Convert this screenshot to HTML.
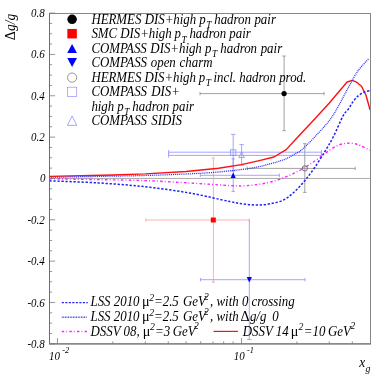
<!DOCTYPE html>
<html><head><meta charset="utf-8"><title>plot</title>
<style>html,body{margin:0;padding:0;background:#fff;}svg{display:block;will-change:transform}text{font-family:"Liberation Serif",serif;fill:#000}.i{font-style:italic}</style></head><body>
<svg width="378" height="378" viewBox="0 0 378 378">
<rect width="378" height="378" fill="#fff"/>
<line x1="49.5" y1="178.45" x2="370.5" y2="178.45" stroke="#a2a2a2" stroke-width="0.9"/>
<path d="M145.8 220.0H249.3M145.8 218.3V221.7M249.3 218.3V221.7M213.4 157.9V282.2M211.70000000000002 157.9H215.1M211.70000000000002 282.2H215.1" stroke="#ff9d9d" stroke-width="0.8" fill="none"/>
<path d="M200.5 279.7H305.0M200.5 278.0V281.4M305.0 278.0V281.4M249.3 220.0V339.6" stroke="#8f8fff" stroke-width="0.8" fill="none"/>
<path d="M247.1 339.6H251.5" stroke="#8f8fff" stroke-width="0.8" fill="none"/>
<path d="M200.0 93.6H324.1M200.0 91.89999999999999V95.3M324.1 91.89999999999999V95.3M284.1 56.0V130.7M282.40000000000003 56.0H285.8M282.40000000000003 130.7H285.8" stroke="#8a8a8a" stroke-width="0.8" fill="none"/>
<path d="M247.2 168.4H355.2M247.2 166.70000000000002V170.1M355.2 166.70000000000002V170.1M304.8 143.7V192.4M303.1 143.7H306.5M303.1 192.4H306.5" stroke="#8a8a8a" stroke-width="0.8" fill="none"/>
<path d="M168.6 152.2H321.4M168.6 150.0V154.39999999999998M321.4 150.0V154.39999999999998M233.2 134.4V171.0M231.0 134.4H235.39999999999998M231.0 171.0H235.39999999999998" stroke="#8f8fff" stroke-width="0.8" fill="none"/>
<path d="M168.6 155.4H321.4M168.6 153.20000000000002V157.6M321.4 153.20000000000002V157.6M241.6 144.6V165.2M239.4 144.6H243.79999999999998M239.4 165.2H243.79999999999998" stroke="#8f8fff" stroke-width="0.8" fill="none"/>
<path d="M200.3 175.3H279.4M200.3 173.60000000000002V177.0M279.4 173.60000000000002V177.0M233.2 158.8V191.4M231.5 158.8H234.89999999999998M231.5 191.4H234.89999999999998" stroke="#8f8fff" stroke-width="0.8" fill="none"/>
<path d="M49.5 176.4L112.9 175.0L145.3 173.9L186.1 171.5L218.5 168.3L241.5 164.6L259.3 160.6L273.9 157.0L286.2 149.6L296.9 138.0L314.7 119.0L329.3 103.0L341.6 88.5L347.1 82.0L352.3 80.3L357.1 82.4L361.7 86.6L366.0 95.3L370.1 110.0" stroke="#ff1010" stroke-width="1.4" fill="none" stroke-linejoin="round"/>
<path d="M49.5 178.8C57.6 178.9 82.1 179.3 98.0 179.6C113.9 179.9 129.7 180.0 145.0 180.6C160.3 181.2 175.8 182.2 190.0 183.0C204.2 183.8 221.2 185.1 230.0 185.6C238.8 186.1 238.6 186.0 243.0 185.8C247.4 185.6 252.1 185.2 256.5 184.6C260.9 184.0 265.3 183.4 269.7 182.3C274.1 181.2 278.5 179.7 282.9 178.0C287.3 176.3 291.7 174.5 296.1 172.3C300.5 170.1 305.0 167.4 309.4 164.6C313.8 161.8 318.9 158.0 322.6 155.3C326.4 152.6 329.0 150.4 331.9 148.6C334.8 146.8 337.4 145.5 340.0 144.6C342.6 143.7 345.1 143.4 347.4 143.2C349.7 143.0 351.8 143.2 354.0 143.6C356.2 144.0 357.6 144.5 360.4 145.6C363.1 146.7 368.8 149.6 370.5 150.4" stroke="#ff1fff" stroke-width="1.4" fill="none" stroke-linecap="butt" stroke-linejoin="round" stroke-dasharray="2.6 2.1 0.9 2.3"/>
<path d="M49.5 180.8C57.6 181.2 82.1 181.9 98.0 182.9C113.9 183.9 129.7 185.0 145.0 186.7C160.3 188.4 175.8 190.6 190.0 193.1C204.2 195.6 221.2 199.8 230.0 201.6C238.8 203.4 238.6 203.2 243.0 203.8C247.4 204.4 252.1 205.0 256.5 205.0C260.9 205.0 265.3 204.6 269.7 203.8C274.1 203.0 278.9 202.2 282.9 200.3C286.9 198.4 289.9 195.8 293.5 192.6C297.1 189.4 301.0 185.2 304.5 181.0C308.0 176.8 311.2 172.5 314.7 167.5C318.1 162.5 322.1 156.1 325.2 151.0C328.3 145.9 330.2 142.8 333.2 137.0C336.2 131.2 340.5 120.7 343.0 116.0C345.5 111.3 346.7 111.5 348.4 109.1C350.1 106.7 351.3 104.0 353.0 101.8C354.7 99.5 356.5 97.2 358.4 95.6C360.3 94.0 362.6 92.8 364.5 92.0C366.4 91.2 369.1 90.8 370.0 90.6" stroke="#1f1fff" stroke-width="1.5" fill="none" stroke-linecap="butt" stroke-linejoin="round" stroke-dasharray="2.3 1.7"/>
<path d="M49.5 177.3C57.6 177.2 82.1 176.7 98.0 176.4C113.9 176.1 128.0 176.0 145.0 175.5C162.0 175.0 185.8 174.1 200.0 173.3C214.2 172.5 220.6 171.8 230.0 170.8C239.4 169.8 247.7 169.0 256.5 167.2C265.3 165.4 276.4 162.3 282.9 160.0C289.4 157.7 292.5 155.2 295.6 153.5C298.7 151.8 298.4 152.6 301.4 150.0C304.4 147.4 308.6 143.5 313.7 138.0C318.8 132.5 326.3 125.1 331.9 117.0C337.5 108.9 343.1 97.0 347.4 89.3C351.7 81.6 354.2 76.2 357.8 71.1C361.4 66.0 367.0 60.7 368.8 58.6" stroke="#2a2aff" stroke-width="1.25" fill="none" stroke-linecap="butt" stroke-linejoin="round" stroke-dasharray="1 0.9"/>
<circle cx="284.1" cy="93.6" r="2.6" fill="#000"/>
<rect x="210.8" y="217.5" width="5" height="5" fill="#ff0000"/>
<path d="M233.2 172.6L235.8 177.9H230.6Z" fill="#0000ff"/>
<path d="M249.3 282.6L251.9 277.0H246.7Z" fill="#0000ff"/>
<circle cx="304.8" cy="168.4" r="2.6" fill="none" stroke="#555" stroke-width="0.8"/>
<rect x="230.5" y="149.8" width="5.4" height="5.4" fill="none" stroke="#8f8fff" stroke-width="0.8"/>
<path d="M241.6 151.6L244.4 157.6H238.8Z" fill="none" stroke="#8f8fff" stroke-width="0.8"/>
<rect x="49.5" y="13.5" width="321.0" height="330.4" fill="none" stroke="#868686" stroke-width="1"/>
<path d="M49.5 13.0V343.9M49.0 343.9H371.0" fill="none" stroke="#6e6e6e" stroke-width="1"/>
<path d="M49.5 343.81h5.6M49.5 333.47h2.6M49.5 323.14h2.6M49.5 312.80h2.6M49.5 302.47h5.6M49.5 292.13h2.6M49.5 281.80h2.6M49.5 271.46h2.6M49.5 261.13h5.6M49.5 250.79h2.6M49.5 240.46h2.6M49.5 230.12h2.6M49.5 219.79h5.6M49.5 209.45h2.6M49.5 199.12h2.6M49.5 188.78h2.6M49.5 178.45h5.6M49.5 168.11h2.6M49.5 157.78h2.6M49.5 147.44h2.6M49.5 137.11h5.6M49.5 126.77h2.6M49.5 116.44h2.6M49.5 106.10h2.6M49.5 95.77h5.6M49.5 85.43h2.6M49.5 75.10h2.6M49.5 64.76h2.6M49.5 54.43h5.6M49.5 44.09h2.6M49.5 33.76h2.6M49.5 23.43h2.6M49.5 13.09h5.6M57.46 343.9v-5.8M112.86 343.9v-2.6M145.27 343.9v-2.6M168.26 343.9v-2.6M186.10 343.9v-2.6M200.67 343.9v-2.6M212.99 343.9v-2.6M223.66 343.9v-2.6M233.08 343.9v-2.6M241.50 343.9v-5.8M296.90 343.9v-2.6M329.31 343.9v-2.6M352.30 343.9v-2.6" stroke="#7a7a7a" stroke-width="0.8" fill="none"/>
<text class="i" transform="translate(44.8,17.1) scale(1,1.09)" font-size="11" text-anchor="end">0.8</text>
<text class="i" transform="translate(44.8,58.4) scale(1,1.09)" font-size="11" text-anchor="end">0.6</text>
<text class="i" transform="translate(44.8,99.8) scale(1,1.09)" font-size="11" text-anchor="end">0.4</text>
<text class="i" transform="translate(44.8,141.1) scale(1,1.09)" font-size="11" text-anchor="end">0.2</text>
<text class="i" transform="translate(45.6,182.4) scale(1,1.09)" font-size="11" text-anchor="end">0</text>
<text class="i" transform="translate(44.8,223.8) scale(1,1.09)" font-size="11" text-anchor="end">-0.2</text>
<text class="i" transform="translate(44.8,265.1) scale(1,1.09)" font-size="11" text-anchor="end">-0.4</text>
<text class="i" transform="translate(44.8,306.5) scale(1,1.09)" font-size="11" text-anchor="end">-0.6</text>
<text class="i" transform="translate(44.8,347.8) scale(1,1.09)" font-size="11" text-anchor="end">-0.8</text>
<text class="i" transform="translate(48.9,360) scale(1,1.09)" font-size="11">10</text>
<text class="i" transform="translate(233.7,360) scale(1,1.09)" font-size="11">10</text>
<text class="i" transform="translate(62.2,352.8) scale(1,1.09)" font-size="8.3">-2</text>
<text class="i" transform="translate(247.0,352.8) scale(1,1.09)" font-size="8.3">-1</text>
<text transform="translate(14.9,40.2) rotate(-90) scale(1,1.09)" font-size="13.5"><tspan font-size="14.2">&#916;</tspan><tspan class="i">g/g</tspan></text>
<text class="i" transform="translate(359.2,366.8) scale(1,1.09)" font-size="13.5">x<tspan font-size="9.8" dy="4.9" dx="0.3">g</tspan></text>
<circle cx="72.1" cy="19.3" r="4.75" fill="#000"/>
<rect x="67.35" y="28.950000000000003" width="9.5" height="9.5" fill="#ff0000"/>
<path d="M72.1 44L76.94999999999999 53H67.25Z" fill="#0000ff"/>
<path d="M72.1 67L76.94999999999999 57.9H67.25Z" fill="#0000ff"/>
<circle cx="72.1" cy="77.6" r="4.6" fill="none" stroke="#6a6a6a" stroke-width="0.7"/>
<rect x="67.5" y="87.2" width="9.2" height="9.2" fill="none" stroke="#8f8fff" stroke-width="0.7"/>
<path d="M72.1 116L76.8 125.4H67.39999999999999Z" fill="none" stroke="#8f8fff" stroke-width="0.8"/>
<text class="i" transform="translate(91.4,23.9) scale(1,1.09)" font-size="12.9" word-spacing="0.2"><tspan letter-spacing="-0.035">HERMES DIS+high </tspan><tspan dx="-0.3">p</tspan><tspan font-size="9.3" dy="3.9" dx="0.5">T</tspan><tspan dy="-3.9" dx="-0.5"> </tspan>hadron pair</text>
<text class="i" transform="translate(91.4,38.3) scale(1,1.09)" font-size="12.9"><tspan letter-spacing="-0.035">SMC DIS+high </tspan><tspan dx="-0.3">p</tspan><tspan font-size="9.3" dy="3.9" dx="0.5">T</tspan><tspan dy="-3.9" dx="-0.5"> </tspan>hadron pair</text>
<text class="i" transform="translate(91.4,53.1) scale(1,1.09)" font-size="12.9" word-spacing="0.4"><tspan letter-spacing="-0.035">COMPASS DIS+high </tspan><tspan dx="-0.3">p</tspan><tspan font-size="9.3" dy="3.9" dx="0.5">T</tspan><tspan dy="-3.9" dx="-0.5"> </tspan>hadron pair</text>
<text class="i" transform="translate(91.4,67.2) scale(1,1.09)" font-size="12.9" word-spacing="0.5">COMPASS open charm</text>
<text class="i" transform="translate(91.4,82.2) scale(1,1.09)" font-size="12.9" word-spacing="-0.05"><tspan letter-spacing="-0.035">HERMES DIS+high </tspan><tspan dx="-0.3">p</tspan><tspan font-size="9.3" dy="3.9" dx="0.5">T</tspan><tspan dy="-3.9" dx="-0.5"> </tspan>incl. hadron prod.</text>
<text class="i" transform="translate(91.4,96.4) scale(1,1.09)" font-size="12.9" word-spacing="1.0">COMPASS DIS+</text>
<text class="i" transform="translate(91.4,111.0) scale(1,1.09)" font-size="12.9" word-spacing="0.2"><tspan letter-spacing="-0.035">high </tspan><tspan dx="-0.3">p</tspan><tspan font-size="9.3" dy="3.9" dx="0.5">T</tspan><tspan dy="-3.9" dx="-0.5"> </tspan>hadron pair</text>
<text class="i" transform="translate(91.4,125.3) scale(1,1.09)" font-size="12.9" word-spacing="1.0">COMPASS SIDIS</text>
<path d="M61.8 302.6H87.8" stroke="#1f1fff" stroke-width="1.3" stroke-dasharray="2.1 1.4" fill="none"/>
<path d="M61.8 317.2H87.4" stroke="#2a2aff" stroke-width="1.4" stroke-dasharray="0.8 0.8" fill="none"/>
<path d="M61.8 331.5H87.4" stroke="#ff1fff" stroke-width="1.3" stroke-dasharray="2.4 2.1 0.8 2.3" fill="none"/>
<path d="M213.5 331.4H237.9" stroke="#ff1010" stroke-width="1.2" fill="none"/>
<text class="i" transform="translate(90.5,306.3) scale(1,1.09)" font-size="12.9">LSS 2010</text>
<text class="n" transform="translate(142.0,306.3) scale(1,1.09)" font-size="14.2">&#956;</text>
<text class="i" transform="translate(149.3,301.0) scale(1,1.09)" font-size="9.8">2</text>
<text class="i" transform="translate(154.0,306.3) scale(1,1.09)" font-size="12.9">=2.5</text>
<text class="i" transform="translate(183.0,306.3) scale(1,1.09)" font-size="12.9">GeV</text>
<text class="i" transform="translate(204.1,300.1) scale(1,1.09)" font-size="9.6">2</text>
<text class="i" transform="translate(210.0,306.3) scale(1,1.09)" font-size="12.9">, with 0 crossing</text>
<text class="i" transform="translate(90.5,320.8) scale(1,1.09)" font-size="12.9">LSS 2010</text>
<text class="n" transform="translate(142.0,320.8) scale(1,1.09)" font-size="14.2">&#956;</text>
<text class="i" transform="translate(149.3,315.5) scale(1,1.09)" font-size="9.8">2</text>
<text class="i" transform="translate(154.0,320.8) scale(1,1.09)" font-size="12.9">=2.5</text>
<text class="i" transform="translate(183.0,320.8) scale(1,1.09)" font-size="12.9">GeV</text>
<text class="i" transform="translate(204.1,314.6) scale(1,1.09)" font-size="9.6">2</text>
<text class="i" transform="translate(210.0,320.8) scale(1,1.09)" font-size="12.9">, with</text>
<text class="n" transform="translate(240.5,320.8) scale(1,1.09)" font-size="14.2">&#916;</text>
<text class="i" transform="translate(249.9,320.8) scale(1,1.09)" font-size="12.9">g/g</text>
<text class="i" transform="translate(272.3,320.8) scale(1,1.09)" font-size="12.9">0</text>
<text class="i" transform="translate(90.5,335.5) scale(1,1.09)" font-size="12.9">DSSV 08,</text>
<text class="n" transform="translate(142.7,335.5) scale(1,1.09)" font-size="14.2">&#956;</text>
<text class="i" transform="translate(149.9,330.2) scale(1,1.09)" font-size="9.8">2</text>
<text class="i" transform="translate(155.0,335.5) scale(1,1.09)" font-size="12.9">=3</text>
<text class="i" transform="translate(172.7,335.5) scale(1,1.09)" font-size="12.9">GeV</text>
<text class="i" transform="translate(194.1,329.3) scale(1,1.09)" font-size="9.6">2</text>
<text class="i" transform="translate(242.8,335.5) scale(1,1.09)" font-size="12.9">DSSV 14</text>
<text class="n" transform="translate(290.8,335.5) scale(1,1.09)" font-size="14.2">&#956;</text>
<text class="i" transform="translate(298.6,330.2) scale(1,1.09)" font-size="9.8">2</text>
<text class="i" transform="translate(303.8,335.5) scale(1,1.09)" font-size="12.9">=10</text>
<text class="i" transform="translate(328.0,335.5) scale(1,1.09)" font-size="12.9">GeV</text>
<text class="i" transform="translate(350.6,329.3) scale(1,1.09)" font-size="9.6">2</text>
</svg></body></html>
